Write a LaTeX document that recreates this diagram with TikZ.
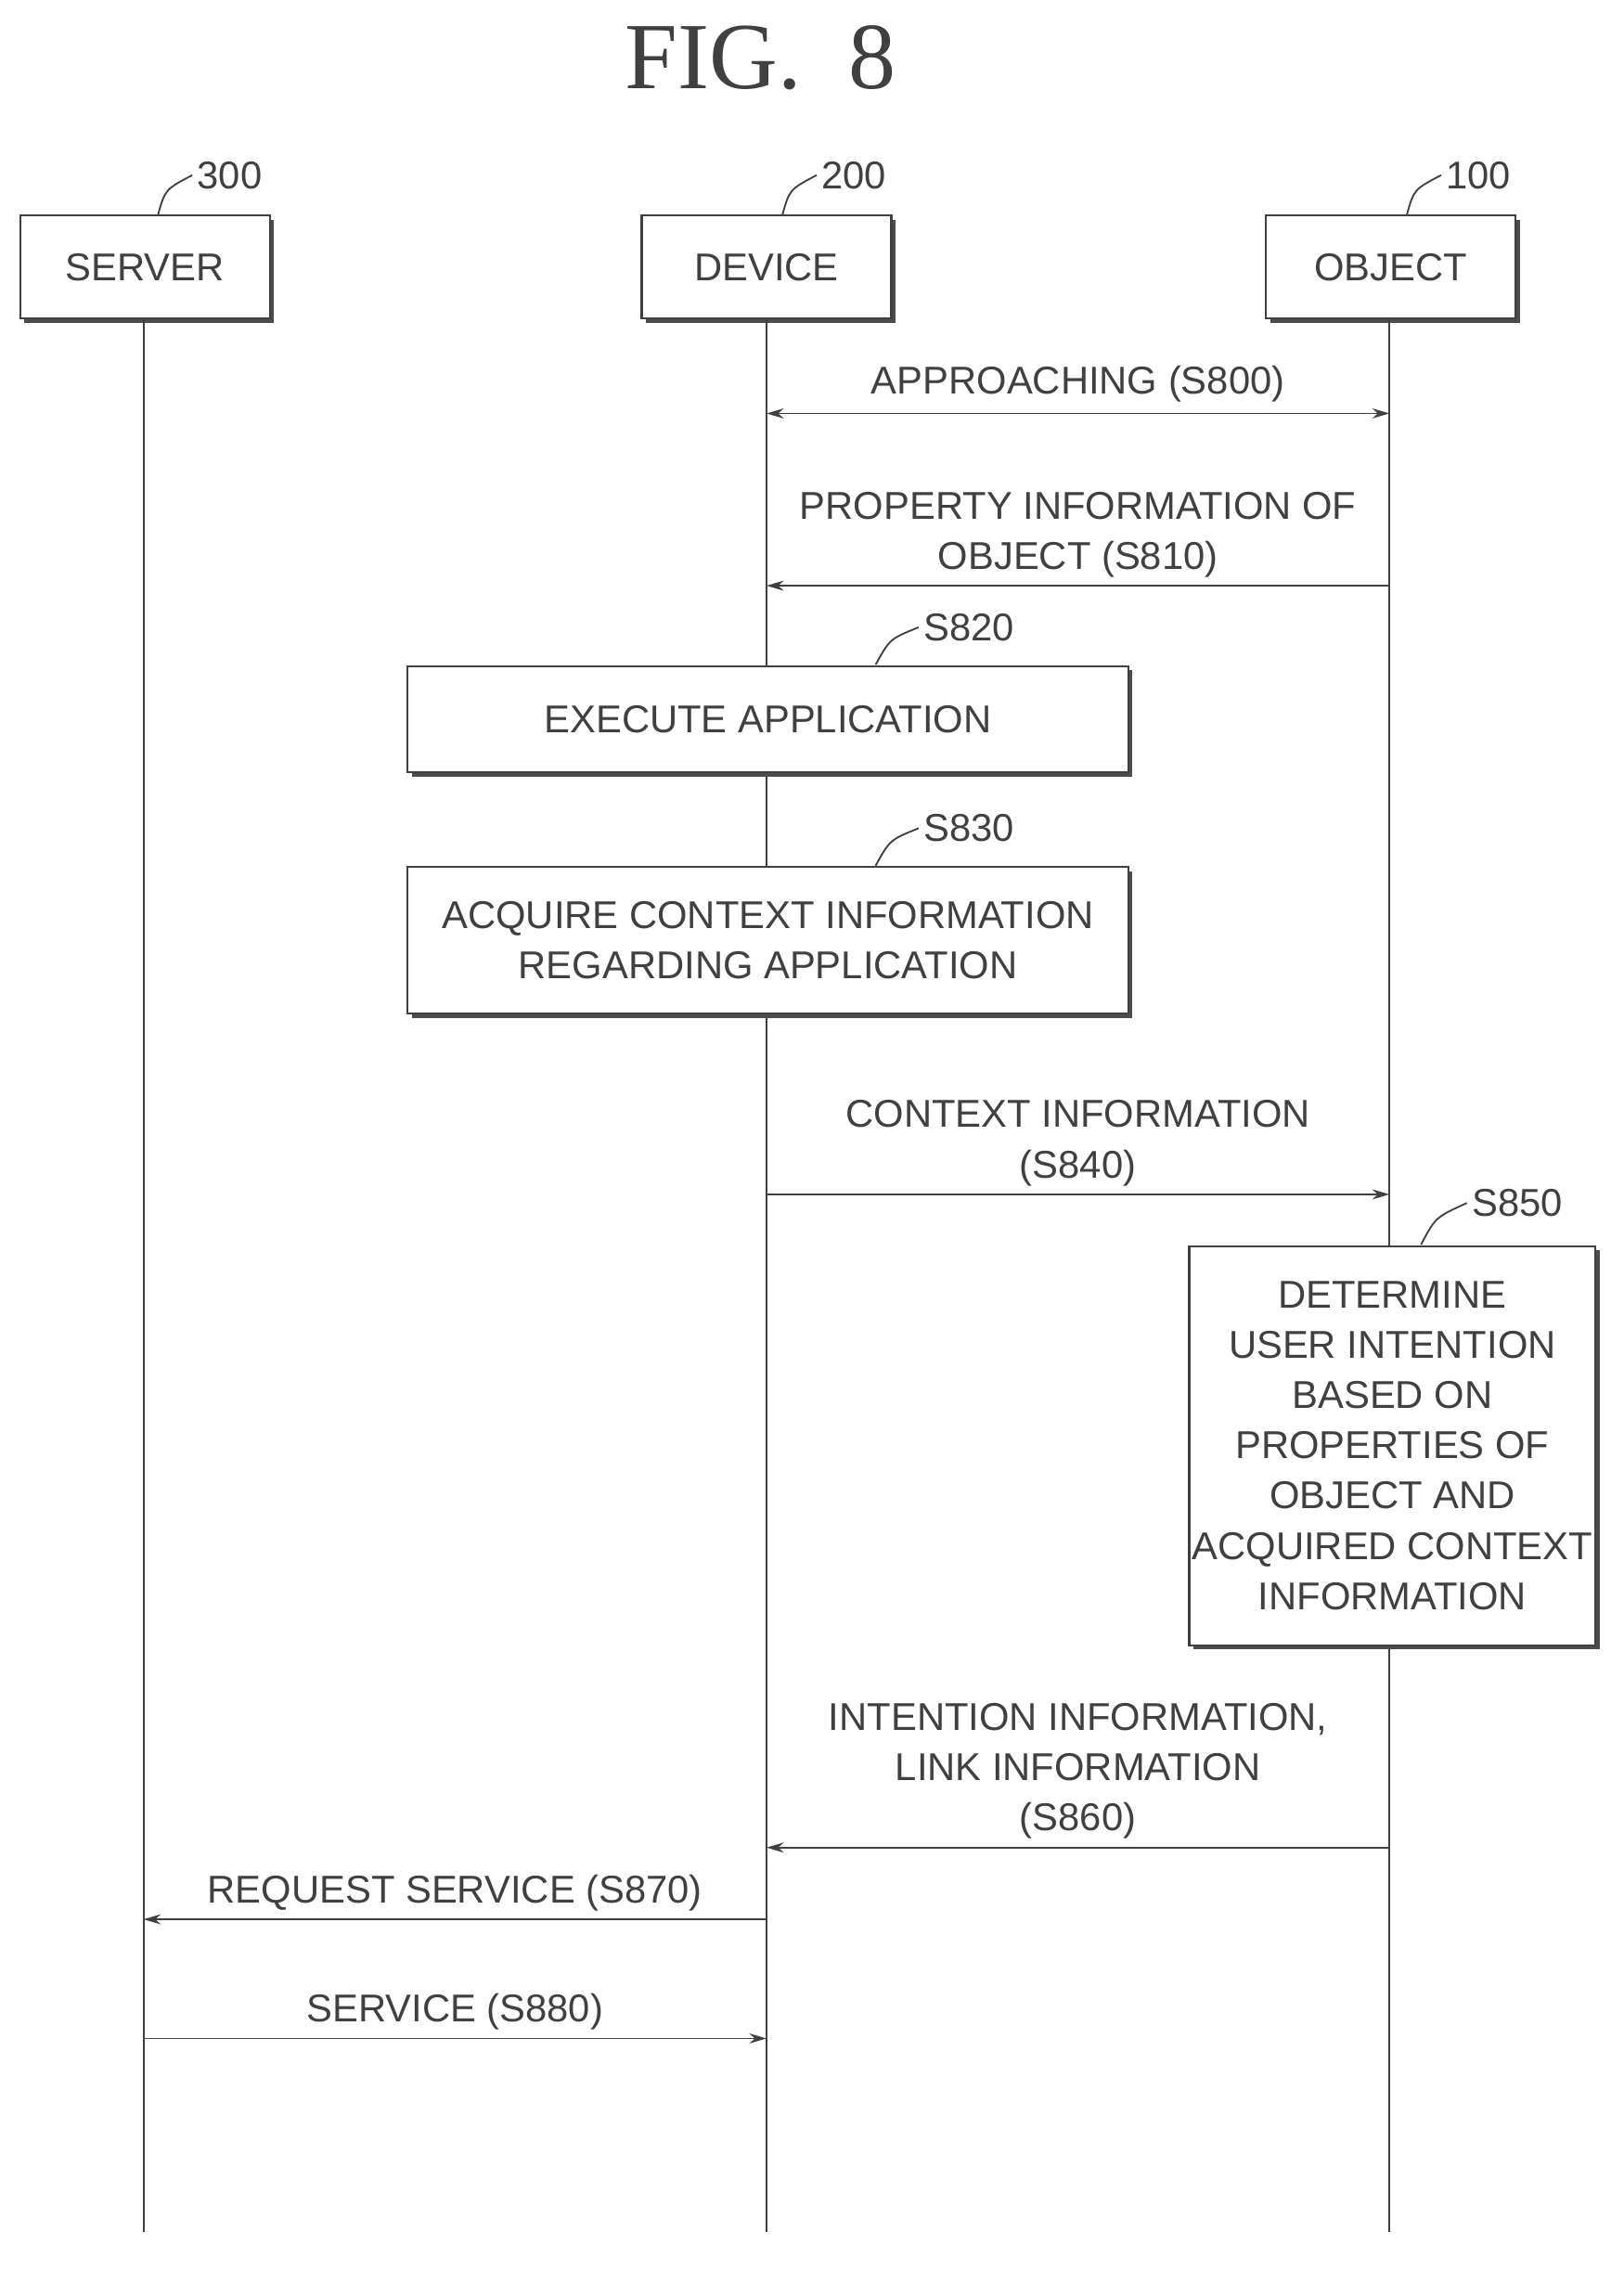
\documentclass[tikz,border=0pt]{standalone}
\usepackage{fontspec}
\setmainfont{Liberation Sans}
\newfontfamily\titlefont{Liberation Serif}
\usetikzlibrary{arrows.meta, positioning, calc, shadows}

\begin{document}
\begin{tikzpicture}[x=1pt,y=-1pt,
    every node/.style={font=\fontsize{27}{35}\selectfont, text=black!75},
    box/.style={draw=black!75, line width=1.4pt, fill=white, align=center,
      drop shadow={shadow xshift=3pt, shadow yshift=-3pt, fill=black!70, opacity=1}},
    life/.style={draw=black!75, line width=1.2pt},
    msg/.style={draw=black!75, line width=1.2pt, -{Stealth[length=12pt,width=7pt]}},
    lead/.style={draw=black!75, line width=1.2pt}]
  \useasboundingbox (0,0) rectangle (1131,1582);
  \node[font=\titlefont\fontsize{66}{70}\selectfont] (title) at (530,40) {FIG.\ \ 8};

  % participants
  \node[box, minimum width=174pt, minimum height=72pt] (server) at (101,186) {SERVER};
  \node[box, minimum width=174pt, minimum height=72pt] (device) at (534,186) {DEVICE};
  \node[box, minimum width=174pt, minimum height=72pt] (object) at (969,186) {OBJECT};
  \coordinate (serverend) at (100,1555);
  \coordinate (deviceend) at (534,1555);
  \coordinate (objectend) at (968,1555);
  \draw[life] (server.south -| serverend) -- (serverend);
  \draw[life] (device.south -| deviceend) -- (deviceend);
  \draw[life] (object.south -| objectend) -- (objectend);

  % reference numerals
  \node (n300) at (160,122) {300};
  \node (n200) at (595,122) {200};
  \node (n100) at (1030,122) {100};
  \draw[lead] (110,150) .. controls (115,132) .. (n300.west);
  \draw[lead] (545,150) .. controls (550,132) .. (n200.west);
  \draw[lead] (980,150) .. controls (985,132) .. (n100.west);

  % steps
  \coordinate (d800) at (534,288); \coordinate (o800) at (968,288);
  \draw[msg, {Stealth[length=12pt,width=7pt]}-{Stealth[length=12pt,width=7pt]}] (d800) -- (o800)
    node[midway, above=4pt] (l800) {APPROACHING (S800)};

  \coordinate (d810) at (534,408); \coordinate (o810) at (968,408);
  \draw[msg] (o810) -- (d810)
    node[midway, above=2pt, align=center] (l810) {PROPERTY INFORMATION OF\\OBJECT (S810)};

  \node[box, minimum width=502pt, minimum height=74pt] (exec) at (535,501) {EXECUTE APPLICATION};
  \node (s820) at (675,437) {S820};
  \draw[lead] (610,463) .. controls (620,445) .. (s820.west);

  \node[box, minimum width=502pt, minimum height=102pt] (acq) at (535,655)
    {ACQUIRE CONTEXT INFORMATION\\REGARDING APPLICATION};
  \node (s830) at (675,577) {S830};
  \draw[lead] (610,603) .. controls (620,585) .. (s830.west);

  \coordinate (d840) at (534,832); \coordinate (o840) at (968,832);
  \draw[msg] (d840) -- (o840)
    node[midway, above=2pt, align=center] (l840) {CONTEXT INFORMATION\\(S840)};

  \node[box, minimum width=272pt, minimum height=278pt, inner sep=2pt] (det) at (970,1007)
    {DETERMINE\\USER INTENTION\\BASED ON\\PROPERTIES OF\\OBJECT AND\\ACQUIRED CONTEXT\\INFORMATION};
  \node (s850) at (1057,838) {S850};
  \draw[lead] (990,867) .. controls (1000,848) .. (s850.west);

  \coordinate (d860) at (534,1287); \coordinate (o860) at (968,1287);
  \draw[msg] (o860) -- (d860)
    node[midway, above=2pt, align=center] (l860) {INTENTION INFORMATION,\\LINK INFORMATION\\(S860)};

  \coordinate (d870) at (534,1337); \coordinate (s870p) at (100,1337);
  \draw[msg] (d870) -- (s870p)
    node[midway, above=2pt] (l870) {REQUEST SERVICE (S870)};

  \coordinate (d880) at (534,1420); \coordinate (s880p) at (100,1420);
  \draw[msg] (s880p) -- (d880)
    node[midway, above=2pt] (l880) {SERVICE (S880)};
\end{tikzpicture}
\end{document}
